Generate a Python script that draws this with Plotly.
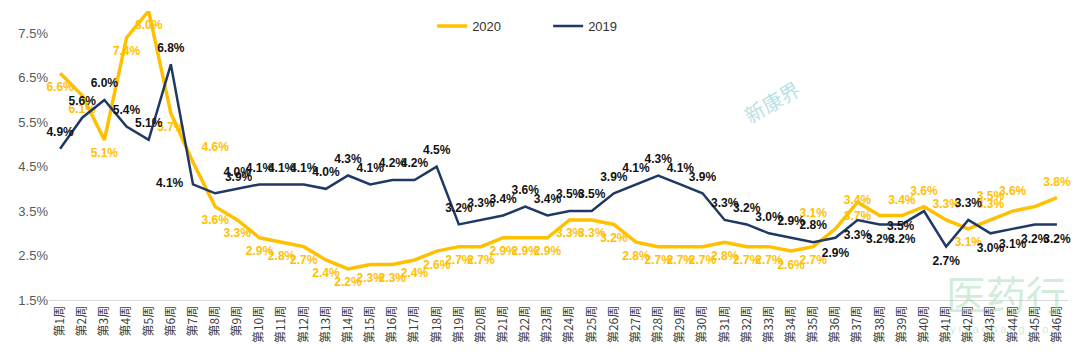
import plotly.graph_objects as go

weeks = [f"第{i}周" for i in range(1, 47)]
v2020 = [6.6, 6.1, 5.1, 7.4, 8.0, 5.7, 4.6, 3.6, 3.3, 2.9, 2.8, 2.7, 2.4, 2.2, 2.3, 2.3, 2.4, 2.6, 2.7, 2.7,
         2.9, 2.9, 2.9, 3.3, 3.3, 3.2, 2.8, 2.7, 2.7, 2.7, 2.8, 2.7, 2.7, 2.6, 2.7, 3.1, 3.7, 3.4, 3.4, 3.6,
         3.3, 3.1, 3.3, 3.5, 3.6, 3.8]
v2019 = [4.9, 5.6, 6.0, 5.4, 5.1, 6.8, 4.1, 3.9, 4.0, 4.1, 4.1, 4.1, 4.0, 4.3, 4.1, 4.2, 4.2, 4.5, 3.2, 3.3,
         3.4, 3.6, 3.4, 3.5, 3.5, 3.9, 4.1, 4.3, 4.1, 3.9, 3.3, 3.2, 3.0, 2.9, 2.8, 2.9, 3.3, 3.2, 3.2, 3.5,
         2.7, 3.3, 3.0, 3.1, 3.2, 3.2]
ytick_vals = [1.5, 2.5, 3.5, 4.5, 5.5, 6.5, 7.5]

YEL = "#FFC000"
NAVY = "#1F3864"
LBL_FONT = "'Liberation Sans Narrow', 'Liberation Sans', Arial"
TICK_FONT = "'Liberation Sans', Arial"

pos2020 = ["bottom center"] * 46
for i in [35, 37]:
    pos2020[i] = "top left"
pos2020[6] = "top right"
for i in [38, 39, 40, 42, 45]:
    pos2020[i] = "top center"
for i in [43, 44]:
    pos2020[i] = "top left"

pos2019 = ["top center"] * 46
pos2019[6] = "middle left"
pos2019[7] = "top right"
for i in [35, 36, 37, 38, 40, 42, 43, 44, 45]:
    pos2019[i] = "bottom center"
pos2019[39] = "bottom left"

fig = go.Figure()
fig.add_trace(go.Scatter(
    x=weeks, y=v2020, name="2020", mode="lines+markers+text",
    line=dict(color=YEL, width=3.5),
    marker=dict(size=12, color="rgba(0,0,0,0)"),
    text=[f"{v:.1f}%" for v in v2020], textposition=pos2020,
    textfont=dict(color=YEL, size=12, family=LBL_FONT, weight="bold"),
    cliponaxis=False,
))
fig.add_trace(go.Scatter(
    x=weeks, y=v2019, name="2019", mode="lines+markers+text",
    line=dict(color=NAVY, width=2.5),
    marker=dict(size=14, color="rgba(0,0,0,0)"),
    text=[f"{v:.1f}%" for v in v2019], textposition=pos2019,
    textfont=dict(color="#111111", size=12, family=LBL_FONT, weight="bold"),
    cliponaxis=False,
))

# watermarks
fig.add_annotation(text="新康界", xref="paper", yref="paper", x=0.745, y=0.79,
                   showarrow=False, textangle=-30,
                   font=dict(size=20, color="rgba(120,200,205,0.55)", family="Noto Sans CJK SC"))
fig.add_annotation(text="医药行", xref="paper", yref="paper", x=1.0, xanchor="right",
                   y=0.025, yanchor="middle", showarrow=False,
                   font=dict(size=40, color="rgba(150,215,170,0.45)", family="Noto Sans CJK SC"))
fig.add_annotation(text="y i y a o h a n g . c o m", xref="paper", yref="paper", x=0.995, xanchor="right",
                   y=-0.10, yanchor="middle", showarrow=False,
                   font=dict(size=11, color="rgba(150,200,170,0.45)", family="Liberation Sans"))

fig.update_layout(
    width=1080, height=358,
    margin=dict(l=49, r=12, t=11, b=58),
    paper_bgcolor="white", plot_bgcolor="white",
    showlegend=True,
    legend=dict(orientation="h", x=0.376, xanchor="left", y=1.0, yanchor="top",
                font=dict(size=13, color="#333333", family=TICK_FONT),
                entrywidth=71, itemwidth=30, bgcolor="rgba(0,0,0,0)"),
    xaxis=dict(type="category", range=[-0.5, 45.5], tickangle=-90,
               tickfont=dict(size=12, color="#404040", family="Noto Sans CJK SC"),
               showgrid=False, showline=True, linecolor="#D9D9D9", linewidth=1,
               ticks="", zeroline=False),
    yaxis=dict(range=[1.5, 8.0], tickvals=ytick_vals,
               ticktext=[f"{v:.1f}%" for v in ytick_vals],
               tickfont=dict(size=13, color="#595959", family=TICK_FONT),
               showgrid=False, zeroline=False, showline=False, ticks=""),
)

fig.write_html("out.html", config={"displayModeBar": False},
               post_script="document.body.style.margin='0';")
